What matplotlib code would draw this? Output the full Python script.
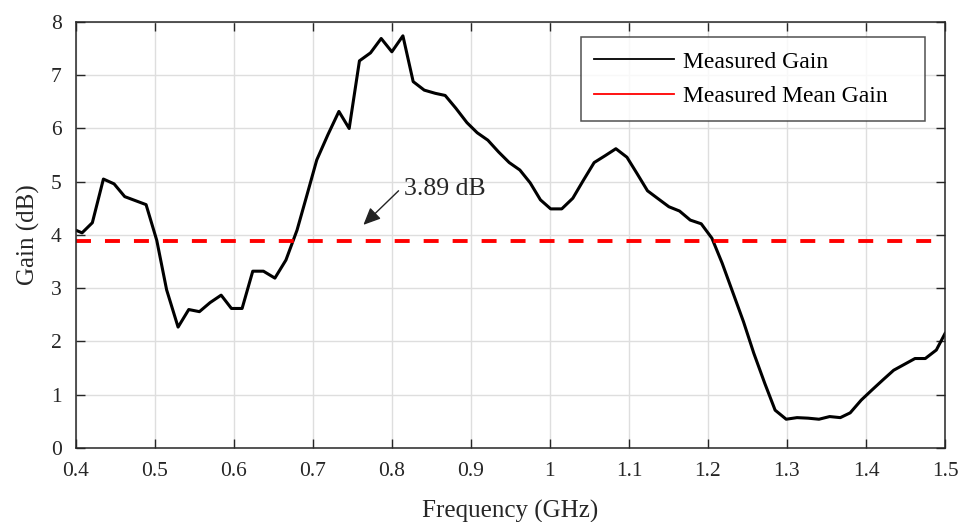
import matplotlib
matplotlib.use('Agg')
import matplotlib.pyplot as plt

plt.rcParams['font.family'] = ['Liberation Serif', 'DejaVu Serif']

# measured gain trace
freq_ghz = [0.400, 0.408, 0.421, 0.435, 0.4485, 0.462, 0.489, 0.5025, 0.515, 0.5295,
            0.543, 0.5565, 0.570, 0.584, 0.597, 0.6105, 0.624, 0.6375, 0.652, 0.666,
            0.680, 0.692, 0.705, 0.719, 0.733, 0.746, 0.759, 0.773, 0.7865, 0.800,
            0.814, 0.827, 0.841, 0.855, 0.8675, 0.881, 0.895, 0.908, 0.9215, 0.935,
            0.9485, 0.962, 0.975, 0.988, 1.001, 1.015, 1.029, 1.0425, 1.056, 1.070,
            1.0835, 1.0975, 1.110, 1.1235, 1.137, 1.1506, 1.164, 1.1776, 1.1915, 1.205,
            1.218, 1.232, 1.245, 1.258, 1.272, 1.285, 1.299, 1.3127, 1.3266, 1.3405,
            1.354, 1.3675, 1.380, 1.394, 1.4076, 1.4215, 1.435, 1.4485, 1.462, 1.475,
            1.489, 1.500]
gain_db = [4.09, 4.04, 4.23, 5.05, 4.96, 4.72, 4.57, 3.90, 2.97, 2.27,
           2.60, 2.56, 2.73, 2.87, 2.62, 2.62, 3.32, 3.32, 3.19, 3.53,
           4.09, 4.72, 5.41, 5.88, 6.32, 6.00, 7.27, 7.42, 7.69, 7.44,
           7.74, 6.88, 6.72, 6.66, 6.62, 6.38, 6.11, 5.92, 5.78, 5.56,
           5.36, 5.22, 4.98, 4.66, 4.49, 4.49, 4.69, 5.03, 5.36, 5.49,
           5.62, 5.46, 5.16, 4.83, 4.68, 4.53, 4.45, 4.28, 4.21, 3.94,
           3.47, 2.90, 2.37, 1.78, 1.21, 0.71, 0.54, 0.57, 0.56, 0.54,
           0.59, 0.57, 0.66, 0.90, 1.09, 1.28, 1.46, 1.57, 1.68, 1.68,
           1.84, 2.15]
mean_gain = 3.89

fig = plt.figure(figsize=(9.6, 5.22), dpi=100)
ax = fig.add_axes([0.0789, 0.1418, 0.9055, 0.8161])

ax.plot(freq_ghz, gain_db, color='black', lw=2.2, label='Measured Gain')
ax.axhline(mean_gain, color='#ff0000', lw=2.8, dashes=(3.85, 3.6),
           label='Measured Mean Gain')

# label for the mean level, with a pointer drawn separately
ax.text(0.8155, 4.86, f'{mean_gain:.2f} dB', fontsize=18.5, va='center',
        ha='left', color='#262626')
ax.annotate('', xy=(0.764, 4.19), xytext=(0.8085, 4.83),
            arrowprops=dict(arrowstyle='-|>,head_length=0.4,head_width=0.18',
                            color='#222222', lw=1.0,
                            mutation_scale=26, shrinkA=0, shrinkB=0))

ax.set_xlim(0.4, 1.5)
ax.set_ylim(0, 8)
ax.set_xticks([0.4, 0.5, 0.6, 0.7, 0.8, 0.9, 1.0, 1.1, 1.2, 1.3, 1.4, 1.5])
ax.set_xticklabels(['0.4', '0.5', '0.6', '0.7', '0.8', '0.9', '1', '1.1',
                    '1.2', '1.3', '1.4', '1.5'])
ax.set_yticks(range(0, 9))
ax.tick_params(direction='in', top=True, right=True, length=6.5, width=1,
               colors='#262626', labelsize=15.5)
ax.tick_params(axis='x', pad=10)
ax.tick_params(axis='y', pad=10)
for s in ax.spines.values():
    s.set_color('#262626')
    s.set_linewidth(1.1)
ax.grid(True, color='#dedede', lw=1.0)
ax.set_axisbelow(True)

ax.set_xlabel('Frequency (GHz)', fontsize=18, color='#262626', labelpad=14)
ax.set_ylabel('Gain (dB)', fontsize=18, color='#262626', labelpad=8)

leg = ax.legend(loc='upper left', bbox_to_anchor=(0.581, 0.787, 0.396, 0.177),
                mode='expand', borderaxespad=0, fontsize=17,
                frameon=True, fancybox=False, edgecolor='#262626',
                handlelength=3.35, handletextpad=0.4, borderpad=0.58,
                labelspacing=0.55)
leg.get_frame().set_linewidth(1.1)
for h in leg.get_lines():
    h.set_linewidth(1.3)
    h.set_linestyle('-')

fig.savefig('out.png', dpi=100)
